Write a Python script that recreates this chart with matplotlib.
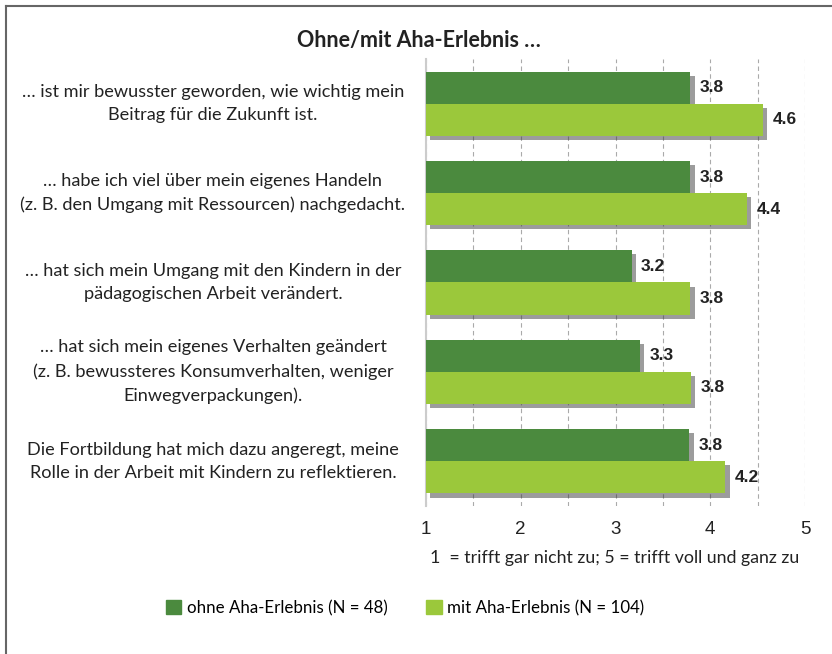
import numpy as np
import matplotlib.pyplot as plt
import matplotlib.patheffects as pe
from matplotlib.lines import Line2D
from matplotlib.patches import Patch
from matplotlib.transforms import blended_transform_factory

# Data
categories = [
    "… ist mir bewusster geworden, wie wichtig mein\nBeitrag für die Zukunft ist.",
    "… habe ich viel über mein eigenes Handeln\n(z. B. den Umgang mit Ressourcen) nachgedacht.",
    "… hat sich mein Umgang mit den Kindern in der\npädagogischen Arbeit verändert.",
    "… hat sich mein eigenes Verhalten geändert\n(z. B. bewussteres Konsumverhalten, weniger\nEinwegverpackungen).",
    "Die Fortbildung hat mich dazu angeregt, meine\nRolle in der Arbeit mit Kindern zu reflektieren.",
]
ohne = [3.79, 3.79, 3.17, 3.26, 3.78]
mit = [4.56, 4.39, 3.79, 3.80, 4.16]
series_names = ["ohne Aha-Erlebnis (N = 48)", "mit Aha-Erlebnis (N = 104)"]
xticks = [1, 2, 3, 4, 5]

dark = "#4b8a3e"
light = "#9bc83b"
txt = "#222222"
label_font = "Lato"

fig = plt.figure(figsize=(8.32, 6.54), dpi=100)
ax = fig.add_axes([426/832, 1-506/654, (805-426)/832, (506-59)/654])

y = np.arange(len(categories))
h = 0.36
shadow = [pe.SimplePatchShadow(offset=(3, -3), shadow_rgbFace="#3a3a3a", alpha=0.5), pe.Normal()]

b1 = ax.barh(y - h/2, np.array(ohne) - 1, height=h, left=1, color=dark, zorder=3)
b2 = ax.barh(y + h/2, np.array(mit) - 1, height=h, left=1, color=light, zorder=3)
for bars, vals in ((b1, ohne), (b2, mit)):
    for bar, v in zip(bars, vals):
        bar.set_path_effects(shadow)
        ax.text(v + 0.1, bar.get_y() + bar.get_height()/2, f"{v:.1f}",
                ha="left", va="center", fontsize=12.5, fontweight="bold",
                family="Liberation Sans", color=txt, zorder=4)

ax.set_xlim(1, 5)
ax.set_ylim(len(categories) - 0.5, -0.5)
ax.set_xticks(xticks)
ax.set_xticks(np.arange(1.5, 5.01, 1), minor=True)
ax.set_xticklabels([str(t) for t in xticks], family="Liberation Sans", fontsize=13.5, color=txt)
ax.tick_params(axis="x", which="both", length=0, pad=11)
ax.set_yticks([])
ax.grid(axis="x", which="both", color="#aaaaaa", linestyle=(0, (4, 3)), linewidth=0.8, zorder=0)
for s in ("top", "right", "bottom"):
    ax.spines[s].set_visible(False)
ax.spines["left"].set_color("#cccccc")
ax.spines["left"].set_linewidth(1.5)

# category labels, centred left of the plot
lab_tr = blended_transform_factory(fig.transFigure, ax.transData)
for yi, c in zip(y, categories):
    ax.text(213/832, yi, c, transform=lab_tr,
            ha="center", va="center", multialignment="center", fontsize=13.1,
            family=label_font, color=txt, linespacing=1.58)

fig.text(419/832, 1-40/654, "Ohne/mit Aha-Erlebnis …", ha="center", va="center",
         fontsize=15.5, fontweight="bold", family=label_font, color=txt)
fig.text(615/832, 1-558/654, "1  = trifft gar nicht zu; 5 = trifft voll und ganz zu",
         ha="center", va="center", fontsize=12.8, family=label_font, color=txt)

handles = [Patch(color=dark), Patch(color=light)]
fig.legend(handles, series_names, loc="center", bbox_to_anchor=(405/832, 1-608/654),
           ncol=2, frameon=False, handlelength=0.9, handleheight=0.9, handletextpad=0.3,
           columnspacing=2.3, prop={"family": label_font, "size": 12.2})

# outer frame (top and left only)
fig.add_artist(Line2D([6/832, 6/832], [0, 1-6/654], transform=fig.transFigure, color="#666666", lw=1.5))
fig.add_artist(Line2D([6/832, 1], [1-6/654, 1-6/654], transform=fig.transFigure, color="#666666", lw=1.5))

fig.savefig("out.png", dpi=100)
